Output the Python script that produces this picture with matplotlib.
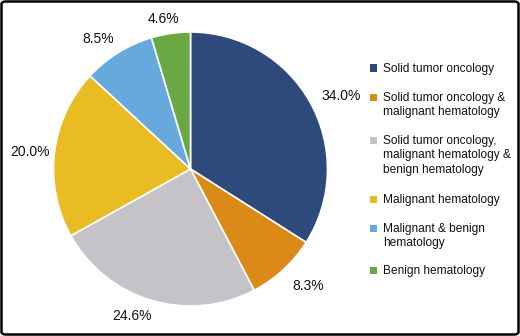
import matplotlib
matplotlib.use("Agg")
import numpy as np
import matplotlib.pyplot as plt
from matplotlib.patches import FancyBboxPatch, Rectangle

categories = [
    "Solid tumor oncology",
    "Solid tumor oncology &\nmalignant hematology",
    "Solid tumor oncology,\nmalignant hematology &\nbenign hematology",
    "Malignant hematology",
    "Malignant & benign\nhematology",
    "Benign hematology",
]
values = [34.0, 8.3, 24.6, 20.0, 8.5, 4.6]
colors = ["#2e4a7c", "#dc8a17", "#c5c3c7", "#e8bc22", "#67a9dc", "#69a843"]

# label placement style (radial distance, angular nudge in degrees)
label_dist = [1.22, 1.21, 1.155, 1.175, 1.165, 1.115]
label_nudge = [-2.9, 2.4, -5.1, 0.7, 3.5, 2.1]

plt.rcParams['font.family'] = ['Liberation Sans', 'DejaVu Sans']

W, H = 520, 336
fig = plt.figure(figsize=(W / 100, H / 100), dpi=100)

cx, cy, r = 190.5, 169, 137
ax = fig.add_axes([(cx - r) / W, (H - cy - r) / H, 2 * r / W, 2 * r / H])
wedges, texts, autotexts = ax.pie(
    values, colors=colors, startangle=90, counterclock=False,
    autopct=lambda p: f"{p:.1f}%", pctdistance=1.17,
    wedgeprops=dict(edgecolor="white", linewidth=1.2),
    textprops=dict(fontsize=10, color="#111111"),
    radius=1.0,
)
for w, t, d, n in zip(wedges, autotexts, label_dist, label_nudge):
    ang = np.deg2rad((w.theta1 + w.theta2) / 2 + n)
    t.set_position((d * np.cos(ang), d * np.sin(ang)))
    t.set_ha("center")
    t.set_va("center")
ax.set_xlim(-1, 1)
ax.set_ylim(-1, 1)
ax.set_aspect("equal")
ax.axis("off")

# legend
sq = 7
text_x = 383
entry_y = [68, 97, 140, 199, 228, 270]
for lab, col, y in zip(categories, colors, entry_y):
    fig.patches.append(Rectangle(((370) / W, (H - y - sq / 2) / H), sq / W, sq / H,
                                 transform=fig.transFigure, facecolor=col,
                                 edgecolor="none"))
    fig.text(text_x / W, (H - y + 4.8) / H, lab, fontsize=8.6, va="top", ha="left",
             color="#111111", linespacing=1.25)

border = FancyBboxPatch((1.5 / W, 1.5 / H), (W - 3) / W, (H - 3) / H,
                        boxstyle="round,pad=0,rounding_size=0.008",
                        transform=fig.transFigure, facecolor="none",
                        edgecolor="black", linewidth=1.8)
fig.patches.append(border)

fig.savefig("out.png", dpi=100)
